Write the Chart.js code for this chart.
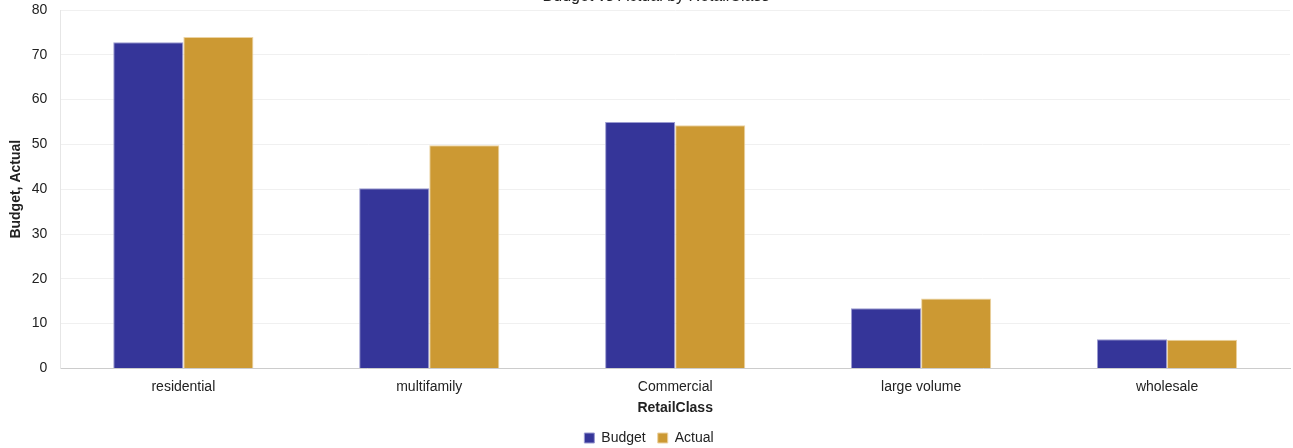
<!DOCTYPE html>
<html><head><meta charset="utf-8">
<script src="https://cdn.jsdelivr.net/npm/chart.js@4"></script>
<style>html,body{margin:0;padding:0;background:#fff}#w{width:1293px;height:448px}</style>
</head><body><div id="w"><canvas id="c"></canvas></div>
<script>
const categories = ["residential", "multifamily", "Commercial", "large volume", "wholesale"];
const budget = [72.8, 40.2, 55.0, 13.4, 6.5];
const actual = [74.0, 49.8, 54.3, 15.6, 6.4];
const yTicks = [0, 10, 20, 30, 40, 50, 60, 70, 80];
const chartTitle = 'Budget vs Actual by RetailClass';

Chart.defaults.font.family = "'Liberation Sans', Arial, sans-serif";
Chart.defaults.color = '#222';

const clippedTitle = {
  id: 'clippedTitle',
  afterDraw(chart) {
    const ctx = chart.ctx;
    ctx.save();
    ctx.font = "16px 'Liberation Sans', Arial, sans-serif";
    ctx.fillStyle = '#222';
    ctx.textAlign = 'center';
    ctx.textBaseline = 'alphabetic';
    ctx.fillText(chartTitle, 656, 0.5);
    ctx.restore();
  }
};

new Chart(document.getElementById('c'), {
  type: 'bar',
  data: {
    labels: categories,
    datasets: [
      {label: 'Budget', data: budget, backgroundColor: '#353599', borderColor: '#9a9ad0', borderWidth: 1, barPercentage: 1, categoryPercentage: 0.57},
      {label: 'Actual', data: actual, backgroundColor: '#CC9933', borderColor: '#ecd3a2', borderWidth: 1, barPercentage: 1, categoryPercentage: 0.57}
    ]
  },
  plugins: [clippedTitle],
  options: {
    responsive: true, maintainAspectRatio: false, animation: false,
    layout: {padding: {left: 8, right: 3, top: 10, bottom: -7}},
    plugins: {
      title: {display: false},
      legend: {position: 'bottom', labels: {boxWidth: 10, boxHeight: 10, padding: 12, font: {size: 14}, color: '#222'}},
      tooltip: {enabled: false}
    },
    scales: {
      x: {
        grid: {display: false, drawTicks: false},
        border: {color: '#ccc'},
        ticks: {font: {size: 14}, color: '#222', padding: 10},
        title: {display: true, text: 'RetailClass', font: {size: 14, weight: 'bold'}, color: '#222', padding: {top: -5, bottom: 2}}
      },
      y: {
        min: 0, max: 80,
        afterBuildTicks: (s) => { s.ticks = yTicks.map(v => ({value: v})); },
        afterFit: (s) => { s.paddingTop = 0; },
        grid: {color: '#f0f0f0', drawTicks: false},
        border: {color: '#e6e6e6'},
        ticks: {font: {size: 14}, color: '#222', padding: 13},
        title: {display: true, text: 'Budget, Actual', font: {size: 14, weight: 'bold'}, color: '#222', padding: {top: 0, bottom: -6}}
      }
    }
  }
});
</script></body></html>
